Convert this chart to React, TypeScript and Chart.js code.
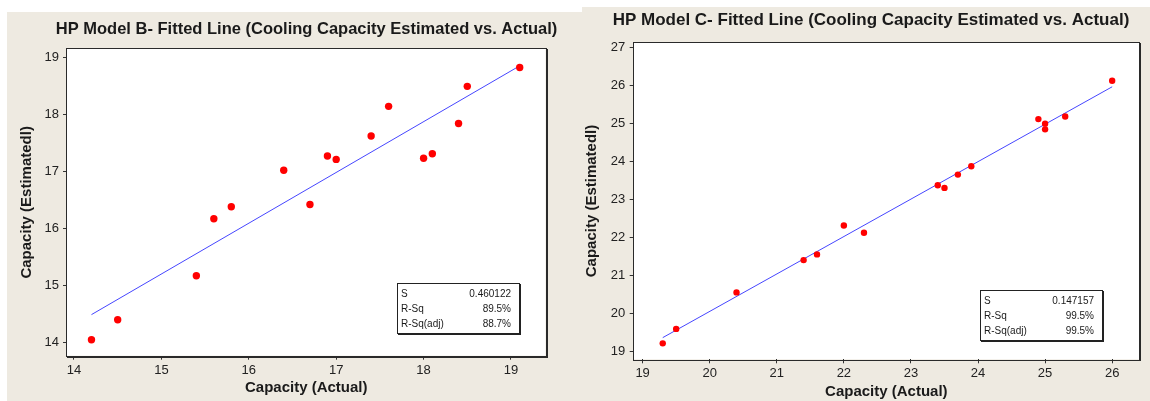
import React, { useEffect, useRef } from 'react';
import { Chart, registerables } from 'chart.js';

Chart.register(...registerables);

// ---------- Data: HP Model B ----------
const actualB = [14.2, 14.5, 15.4, 15.6, 15.8, 16.4, 16.7, 16.9, 17.0, 17.4, 17.6, 18.0, 18.1, 18.4, 18.5, 19.1];
const estimatedB = [14.05, 14.4, 15.17, 16.17, 16.38, 17.02, 16.42, 17.27, 17.21, 17.62, 18.14, 17.23, 17.31, 17.84, 18.49, 18.82];
const fitActualB = [14.2, 19.1];
const fitEstimatedB = [14.49, 18.85];
const xTicksB = [14, 15, 16, 17, 18, 19];
const yTicksB = [14, 15, 16, 17, 18, 19];
const statValuesB = ['0.460122', '89.5%', '88.7%'];

// ---------- Data: HP Model C ----------
const actualC = [19.3, 19.5, 20.4, 21.4, 21.6, 22.0, 22.3, 23.4, 23.5, 23.7, 23.9, 24.9, 25.0, 25.0, 25.3, 26.0];
const estimatedC = [19.22, 19.6, 20.56, 21.41, 21.56, 22.32, 22.13, 23.38, 23.31, 23.66, 23.88, 25.12, 25.0, 24.85, 25.19, 26.13];
const fitActualC = [19.3, 26.0];
const fitEstimatedC = [19.37, 25.97];
const xTicksC = [19, 20, 21, 22, 23, 24, 25, 26];
const yTicksC = [19, 20, 21, 22, 23, 24, 25, 26, 27];
const statValuesC = ['0.147157', '99.5%', '99.5%'];

const statLabels = ['S', 'R-Sq', 'R-Sq(adj)'];
const titleB = 'HP Model B- Fitted Line (Cooling Capacity Estimated vs. Actual)';
const titleC = 'HP Model C- Fitted Line (Cooling Capacity Estimated vs. Actual)';
const xTitle = 'Capacity (Actual)';
const yTitle = 'Capacity (Estimatedl)';

const FONT = '"Liberation Sans", Arial, sans-serif';
const PANEL_BG = '#EEEAE1';

const panelPlugin = {
  id: 'panel',
  beforeDraw(chart: any, _args: any, opts: any) {
    const { ctx, width, height, chartArea: a } = chart;
    ctx.save();
    ctx.fillStyle = PANEL_BG;
    ctx.fillRect(0, 0, width, height);
    ctx.fillStyle = '#ffffff';
    ctx.fillRect(a.left, a.top, a.right - a.left, a.bottom - a.top);
    ctx.font = `bold ${opts.titleSize}px ${FONT}`;
    ctx.fillStyle = '#1a1a1a';
    ctx.textAlign = 'center';
    ctx.textBaseline = 'middle';
    ctx.fillText(opts.title, opts.titleX, opts.titleY);
    ctx.restore();
  },
  afterDraw(chart: any, _args: any, opts: any) {
    const { ctx, chartArea: a } = chart;
    ctx.save();
    // plot frame
    ctx.strokeStyle = '#2a2a2a';
    ctx.lineWidth = 1;
    ctx.strokeRect(Math.round(a.left) - 0.5, Math.round(a.top) - 0.5, Math.round(a.right - a.left) + 1, Math.round(a.bottom - a.top) + 1);
    ctx.beginPath();
    ctx.moveTo(Math.round(a.right) + 1.5, Math.round(a.top));
    ctx.lineTo(Math.round(a.right) + 1.5, Math.round(a.bottom) + 2);
    ctx.moveTo(Math.round(a.left), Math.round(a.bottom) + 1.5);
    ctx.lineTo(Math.round(a.right) + 2, Math.round(a.bottom) + 1.5);
    ctx.stroke();
    // stats box
    const bw = opts.boxW, bh = opts.boxH;
    const bx = Math.round(a.right - opts.boxRight - bw);
    const by = Math.round(a.bottom - opts.boxBottom - bh);
    ctx.fillStyle = '#ffffff';
    ctx.fillRect(bx, by, bw, bh);
    ctx.strokeStyle = '#222';
    ctx.lineWidth = 1;
    ctx.strokeRect(bx + 0.5, by + 0.5, bw, bh);
    ctx.beginPath();
    ctx.moveTo(bx + bw + 1.5, by + 1);
    ctx.lineTo(bx + bw + 1.5, by + bh + 2);
    ctx.moveTo(bx + 1, by + bh + 1.5);
    ctx.lineTo(bx + bw + 2, by + bh + 1.5);
    ctx.stroke();
    ctx.font = `10px ${FONT}`;
    ctx.fillStyle = '#1a1a1a';
    ctx.textBaseline = 'middle';
    opts.labels.forEach((lab: string, i: number) => {
      const y = by + 11 + i * 15;
      ctx.textAlign = 'left';
      ctx.fillText(lab, bx + 4, y);
      ctx.textAlign = 'right';
      ctx.fillText(opts.values[i], bx + bw - 8, y);
    });
    ctx.restore();
  },
};

function makeConfig(p: any) {
  return {
    type: 'scatter',
    data: {
      datasets: [
        {
          data: p.xs.map((x: number, i: number) => ({ x, y: p.ys[i] })),
          backgroundColor: '#ff0000',
          borderColor: '#ff0000',
          pointRadius: p.pointRadius,
          pointBorderWidth: 0,
          showLine: false,
        },
        {
          data: p.fx.map((x: number, i: number) => ({ x, y: p.fy[i] })),
          borderColor: 'rgb(70,70,255)',
          borderWidth: 1,
          pointRadius: 0,
          showLine: true,
          fill: false,
        },
      ],
    },
    options: {
      animation: false,
      responsive: false,
      maintainAspectRatio: false,
      events: [],
      layout: { padding: { top: p.padTop, right: p.padRight, left: 0, bottom: 0 } },
      plugins: {
        legend: { display: false },
        tooltip: { enabled: false },
        title: { display: false },
        panel: {
          title: p.title,
          titleSize: p.titleSize,
          titleX: p.titleX,
          titleY: p.titleY,
          labels: statLabels,
          values: p.stats,
          boxW: 122,
          boxH: 50,
          boxRight: p.boxRight,
          boxBottom: p.boxBottom,
        },
      },
      scales: {
        x: {
          type: 'linear',
          min: p.xMin,
          max: p.xMax,
          afterFit(s: any) { s.height = p.xAxisH; },
          afterBuildTicks(s: any) { s.ticks = p.xTicks.map((v: number) => ({ value: v })); },
          grid: { drawOnChartArea: false, drawTicks: true, tickLength: 4, color: '#333', lineWidth: 1 },
          border: { display: false },
          ticks: { font: { family: FONT, size: 13 }, color: '#222', padding: p.xTickPad, maxRotation: 0 },
          title: {
            display: true,
            text: xTitle,
            font: { family: FONT, size: 15, weight: 'bold' },
            color: '#1a1a1a',
            padding: { top: 0, bottom: p.xTitlePad },
          },
        },
        y: {
          type: 'linear',
          min: p.yMin,
          max: p.yMax,
          afterFit(s: any) { s.width = p.yAxisW; },
          afterBuildTicks(s: any) { s.ticks = p.yTicks.map((v: number) => ({ value: v })); },
          grid: { drawOnChartArea: false, drawTicks: true, tickLength: 4, color: '#333', lineWidth: 1 },
          border: { display: false },
          ticks: { font: { family: FONT, size: 13 }, color: '#222', padding: p.yTickPad },
          title: {
            display: true,
            text: yTitle,
            font: { family: FONT, size: 15, weight: 'bold' },
            color: '#1a1a1a',
            padding: { top: p.yTitlePad, bottom: 0 },
          },
        },
      },
    },
    plugins: [panelPlugin],
  };
}

function FitChart(props: { params: any; left: number; top: number; width: number; height: number }) {
  const ref = useRef<HTMLCanvasElement | null>(null);
  useEffect(() => {
    if (!ref.current) return;
    const chart = new Chart(ref.current, makeConfig(props.params) as any);
    return () => chart.destroy();
  }, []);
  return (
    <canvas
      ref={ref}
      width={props.width}
      height={props.height}
      style={{ position: 'absolute', left: props.left, top: props.top, width: props.width, height: props.height, display: 'block' }}
    />
  );
}

const paramsB = {
  xs: actualB, ys: estimatedB, fx: fitActualB, fy: fitEstimatedB,
  xTicks: xTicksB, yTicks: yTicksB, stats: statValuesB,
  title: titleB, titleSize: 16.5, titleX: 299.5, titleY: 17.5,
  xMin: 13.92, xMax: 19.395, yMin: 13.77, yMax: 19.145,
  padTop: 37, padRight: 36.5, xAxisH: 45.3, yAxisW: 60,
  xTickPad: 3, yTickPad: 4, xTitlePad: 4, yTitlePad: 10.5,
  pointRadius: 3.7, boxRight: 26.5, boxBottom: 22.7,
};

const paramsC = {
  xs: actualC, ys: estimatedC, fx: fitActualC, fy: fitEstimatedC,
  xTicks: xTicksC, yTicks: yTicksC, stats: statValuesC,
  title: titleC, titleSize: 17, titleX: 289, titleY: 13.7,
  xMin: 18.867, xMax: 26.4, yMin: 18.8, yMax: 27.13,
  padTop: 35.7, padRight: 11, xAxisH: 41.7, yAxisW: 51.7,
  xTickPad: 2, yTickPad: 4.5, xTitlePad: 0, yTitlePad: 1,
  pointRadius: 3.2, boxRight: 37.5, boxBottom: 19.3,
};

export default function App() {
  return (
    <div style={{ position: 'absolute', left: 0, top: 0, width: 1150, height: 401, background: '#ffffff', overflow: 'hidden' }}>
      <FitChart params={paramsB} left={7} top={12} width={575} height={389} />
      <FitChart params={paramsC} left={582} top={7} width={568} height={394} />
    </div>
  );
}
